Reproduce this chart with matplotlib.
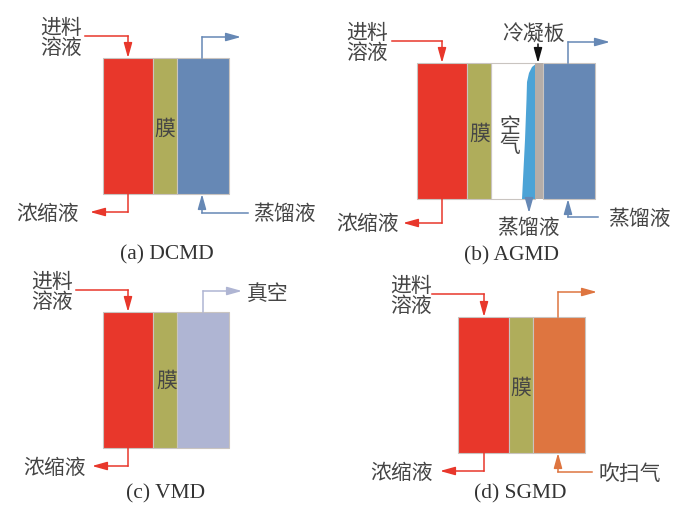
import matplotlib
matplotlib.use("Agg")
import matplotlib.pyplot as plt
from matplotlib.patches import Rectangle, Polygon

plt.rcParams['font.family'] = ['Noto Sans CJK SC', 'DejaVu Sans']

# Labels
captions = ["(a) DCMD", "(b) AGMD", "(c) VMD", "(d) SGMD"]
feed_label = "进料\n溶液"
conc_label = "浓缩液"
dist_label = "蒸馏液"
membrane_label = "膜"
air_label = "空\n气"
plate_label = "冷凝板"
vacuum_label = "真空"
sweep_label = "吹扫气"

RED = "#e8372b"
OLIVE = "#afad5b"
BLUE = "#6688b5"
LILAC = "#afb5d3"
ORANGE = "#de7540"
FILM = "#4ca3d6"
PLATE = "#b5ada8"
TEXT = "#454545"

fig = plt.figure(figsize=(6.93, 5.07), dpi=100)
ax = fig.add_axes([0, 0, 1, 1])
ax.set_xlim(0, 693)
ax.set_ylim(507, 0)
ax.axis("off")


def block(x0, x1, y0, y1, color):
    ax.add_patch(Rectangle((x0, y0), x1 - x0, y1 - y0, facecolor=color,
                           edgecolor="#c9c4c0", linewidth=0.8))


def pipe(points, color):
    xs = [p[0] for p in points]
    ys = [p[1] for p in points]
    ax.plot(xs[:-1], ys[:-1], color=color, linewidth=1.1, solid_joinstyle="miter")
    ax.annotate("", xy=points[-1], xytext=points[-2],
                arrowprops=dict(arrowstyle="-|>,head_length=1.0,head_width=0.28",
                                color=color, lw=1.1, shrinkA=0, shrinkB=0,
                                mutation_scale=9))


def label(x, y, s, size=15):
    # glyphs sit a bit high in the CJK font, so nudge them down
    ax.text(x, y + 1.5, s, fontsize=size, color=TEXT, ha="center", va="center", linespacing=0.88)


def caption(x, y, s):
    ax.text(x, y + 2, s, fontsize=15.5, color="#333333", ha="center", va="center",
            family="Liberation Serif")


# (a) DCMD
block(103, 153, 58, 194, RED)
block(153, 177, 58, 194, OLIVE)
block(177, 229, 58, 194, BLUE)
pipe([(85, 36), (128, 36), (128, 58)], RED)
pipe([(202, 58), (202, 37), (241, 37)], BLUE)
pipe([(128, 194), (128, 212), (90, 212)], RED)
pipe([(248, 213), (202, 213), (202, 194)], BLUE)
label(61, 36, feed_label)
label(48, 212, conc_label)
label(284, 212, dist_label)
label(165, 127, membrane_label)
caption(167, 253, captions[0])

# (b) AGMD
block(491, 535, 63, 199, "white")
ax.add_patch(Polygon([(537, 63), (532, 67), (529, 73), (527, 82), (526.5, 100), (525, 140), (522, 199), (536, 199)],
                     facecolor=FILM, edgecolor="none"))
block(417, 467, 63, 199, RED)
block(467, 491, 63, 199, OLIVE)
ax.add_patch(Rectangle((535, 63), 8, 136, facecolor=PLATE, edgecolor="none"))
block(543, 595, 63, 199, BLUE)
pipe([(392, 41), (442, 41), (442, 63)], RED)
pipe([(568, 63), (568, 42), (610, 42)], BLUE)
pipe([(442, 199), (442, 223), (403, 223)], RED)
pipe([(529, 199), (529, 213)], BLUE)
pipe([(598, 217), (568, 217), (568, 199)], BLUE)
pipe([(538, 44), (538, 63)], "#111111")
label(367, 41, feed_label)
label(368, 222, conc_label)
label(528, 226, dist_label)
label(639, 217, dist_label)
label(534, 33, plate_label)
label(480, 132, membrane_label)
label(510, 135, air_label)
caption(511, 254, captions[1])

# (c) VMD
block(103, 153, 312, 448, RED)
block(153, 177, 312, 448, OLIVE)
block(177, 229, 312, 448, LILAC)
pipe([(76, 290), (128, 290), (128, 312)], RED)
pipe([(203, 312), (203, 291), (242, 291)], LILAC)
pipe([(128, 448), (128, 466), (92, 466)], RED)
label(52, 290, feed_label)
label(55, 466, conc_label)
label(268, 293, vacuum_label)
label(167, 379, membrane_label)
caption(166, 492, captions[2])

# (d) SGMD
block(458, 509, 317, 453, RED)
block(509, 533, 317, 453, OLIVE)
block(533, 585, 317, 453, ORANGE)
pipe([(432, 294), (484, 294), (484, 317)], RED)
pipe([(558, 317), (558, 292), (597, 292)], ORANGE)
pipe([(484, 453), (484, 471), (440, 471)], RED)
pipe([(592, 472), (558, 472), (558, 453)], ORANGE)
label(411, 294, feed_label)
label(402, 471, conc_label)
label(630, 472, sweep_label)
label(521, 386, membrane_label)
caption(520, 492, captions[3])

fig.savefig("out.png", dpi=100)
